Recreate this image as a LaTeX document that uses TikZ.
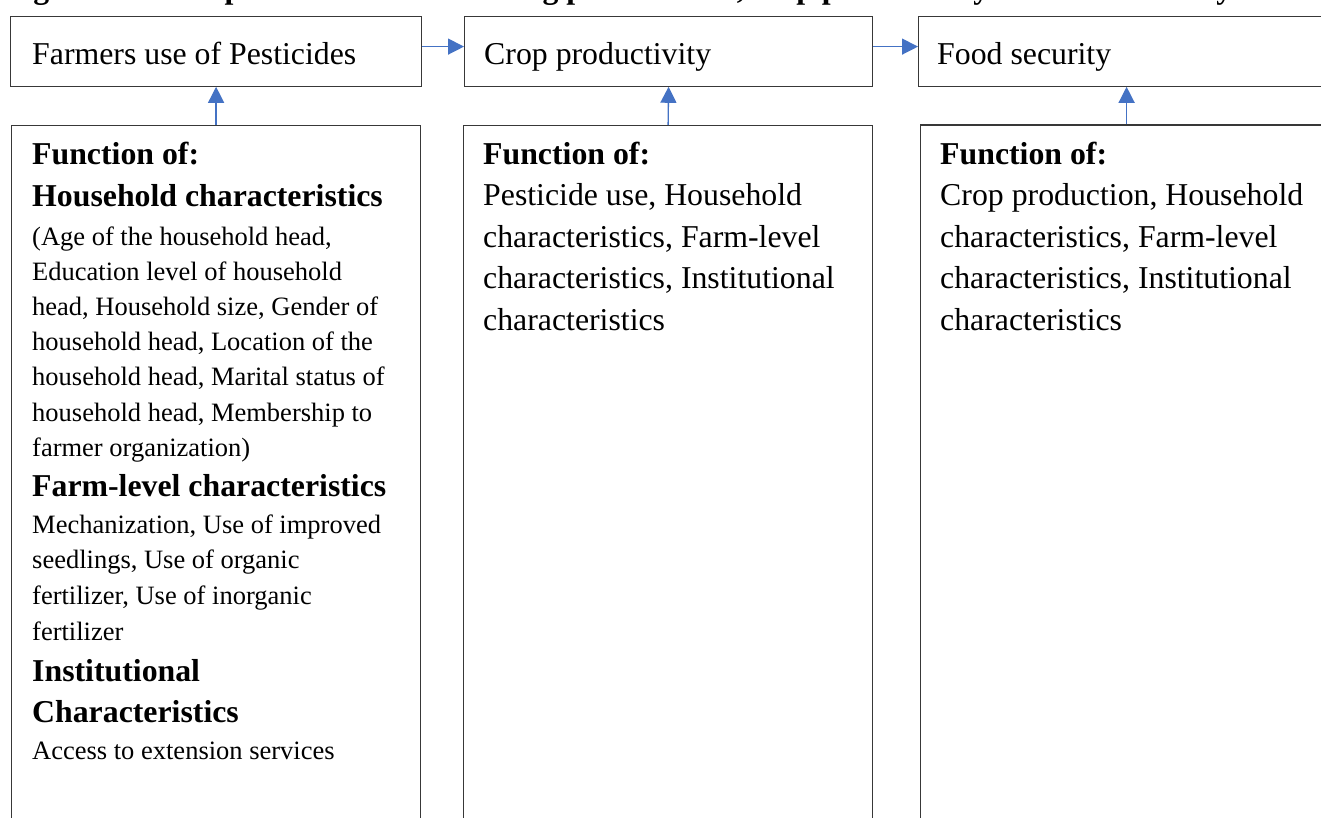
\documentclass[tikz,border=0pt]{standalone}
\usepackage{fontspec}
\setmainfont{Liberation Serif}
\usetikzlibrary{arrows.meta}
\definecolor{arrowblue}{HTML}{4472C4}
\definecolor{boxgray}{HTML}{383838}
\setlength{\parindent}{0pt}
\newcommand{\normspace}{\spaceskip=0pt\xspaceskip=0pt\relax}
\begin{document}
\begin{tikzpicture}[x=1pt,y=-1pt,
  box/.style={draw=boxgray, line width=1.2pt, rectangle, inner sep=0pt, anchor=north west},
  arr/.style={draw=arrowblue, line width=1.3pt, -{Triangle[length=16pt,width=16pt]}},
  lbl/.style={anchor=base west, inner sep=0pt, font=\fontsize{31.8}{38}\selectfont},
  col/.style={anchor=north west, inner sep=0pt, text width=410pt, align=left},
  ttl/.style={anchor=base west, inner sep=0pt, font=\fontsize{31.8}{38}\selectfont\bfseries}]
\useasboundingbox (0,0) rectangle (1321,818);
\clip (0,0) rectangle (1321,818);
\fill[white] (0,0) rectangle (1321,818);

% title (cut off at the top of the picture)
\node[ttl] (title) at (5,-1) {Figure 1: Conceptual framework linking pesticide use, crop productivity and food security};

% top boxes
\node[box, minimum width=411pt, minimum height=70pt] (t1) at (10,15.6) {};
\node[box, minimum width=408pt, minimum height=70pt] (t2) at (464,15.6) {};
\node[box, minimum width=416pt, minimum height=70pt] (t3) at (918,15.6) {};
\node[lbl] (t1txt) at (32,65) {Farmers use of Pesticides};
\node[lbl] (t2txt) at (484,65) {Crop productivity};
\node[lbl] (t3txt) at (937,65) {Food security};

% bottom boxes
\node[box, minimum width=409pt, minimum height=720pt] (b1) at (11,125) {};
\node[box, minimum width=409pt, minimum height=720pt] (b2) at (463,125) {};
\node[box, minimum width=412pt, minimum height=720pt] (b3) at (920,124.5) {};

\node[col] (b1txt) at (32,134) {\normspace\rule{0pt}{30pt}\fontsize{31.8}{42}\selectfont\bfseries Function of:\\
Household characteristics\par
\vspace{3.8pt}\fontsize{26.5}{35.17}\selectfont\mdseries (Age of the household head,\\
Education level of household\\
head, Household size, Gender of\\
household head, Location of the\\
household head, Marital status of\\
household head, Membership to\\
farmer organization)\par
\fontsize{31.8}{40}\selectfont\bfseries Farm-level characteristics\par
\vspace{1.3pt}\fontsize{26.5}{35.67}\selectfont\mdseries Mechanization, Use of improved\\
seedlings, Use of organic\\
fertilizer, Use of inorganic\\
fertilizer\par
\fontsize{31.8}{41}\selectfont\bfseries Institutional\\
Characteristics\par
\fontsize{26.5}{37}\selectfont\mdseries Access to extension services\par};

\node[col] (b2txt) at (483,134) {\normspace\rule{0pt}{30pt}\fontsize{31.8}{41.5}\selectfont\bfseries Function of:\par
\mdseries Pesticide use, Household\\
characteristics, Farm-level\\
characteristics, Institutional\\
characteristics\par};

\node[col] (b3txt) at (940,134) {\normspace\rule{0pt}{30pt}\fontsize{31.8}{41.5}\selectfont\bfseries Function of:\par
\mdseries Crop production, Household\\
characteristics, Farm-level\\
characteristics, Institutional\\
characteristics\par};

% connectors
\draw[arr] ([yshift=4.6pt]t1.east) -- ([yshift=4.6pt]t2.west);
\draw[arr] ([yshift=4.6pt]t2.east) -- ([yshift=4.6pt]t3.west);
\draw[arr] (b1.north) -- (t1.south);
\draw[arr] (b2.north) -- (t2.south);
\draw[arr] (b3.north) -- (t3.south);
\end{tikzpicture}
\end{document}
